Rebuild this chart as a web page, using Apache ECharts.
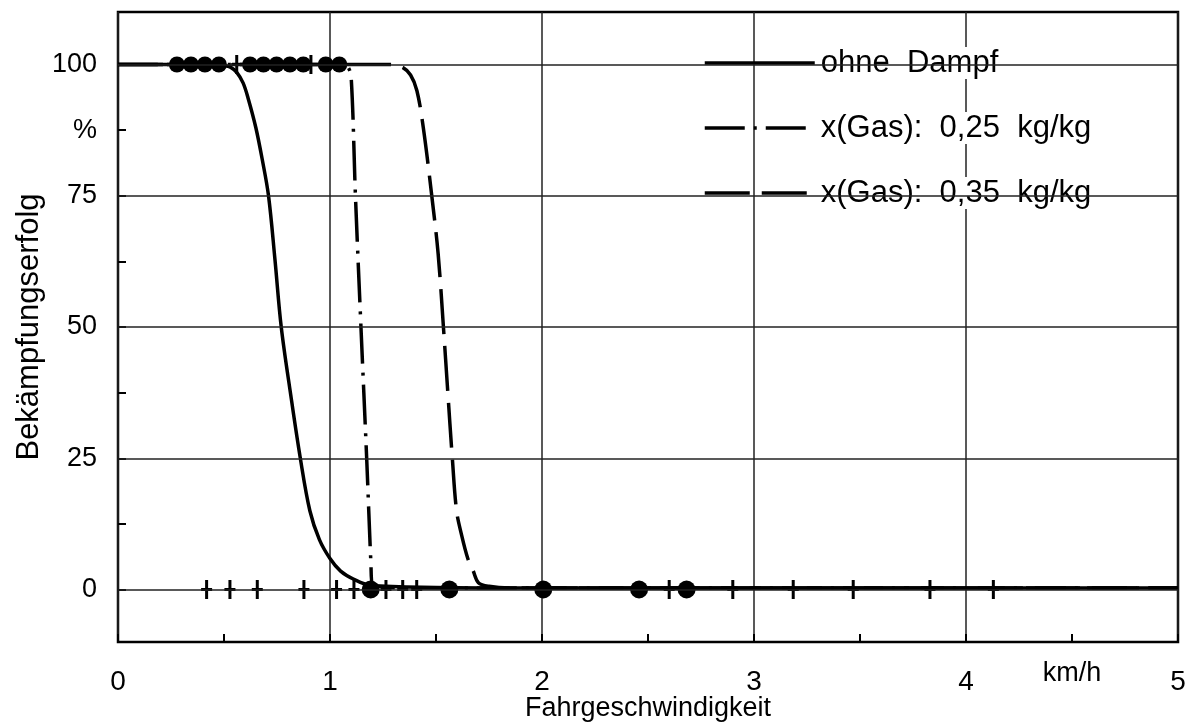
<!DOCTYPE html>
<html>
<head>
<meta charset="utf-8">
<script src="https://cdn.jsdelivr.net/npm/echarts@6/dist/echarts.min.js"></script>
<style>
  html, body { margin: 0; background: #fff; }
  #chart { width: 1190px; height: 726px; }
</style>
</head>
<body>
<div id="chart"></div>
<script>
// curves (x in km/h, y in %)
const solidX = [0, 0.45, 0.5, 0.53, 0.56, 0.59, 0.615, 0.65, 0.68, 0.71, 0.74, 0.77, 0.815, 0.86, 0.905, 0.95, 1.0, 1.05, 1.11, 1.19, 1.5, 2, 5]
const solidY = [100, 100, 99.8, 99.5, 98.5, 96.5, 93.4, 88, 82, 75, 63, 50, 37, 25, 15, 9.5, 5.9, 3.5, 2, 0.8, 0.4, 0.3, 0.3]

const gas25X = [0, 1.06, 1.085, 1.10, 1.12, 1.146, 1.173, 1.193, 1.2, 1.4, 5]
const gas25Y = [100, 100, 99.5, 97.5, 75, 50, 25, 5, 1, 0.3, 0.3]

const gas35X = [0, 1.28, 1.34, 1.38, 1.41, 1.44, 1.48, 1.51, 1.535, 1.555, 1.577, 1.597, 1.62, 1.65, 1.675, 1.70, 1.75, 1.85, 5]
const gas35Y = [100, 100, 99.5, 98, 95, 88, 75, 64, 50, 38, 25, 15, 10.5, 5.9, 3.6, 1.3, 0.6, 0.3, 0.3]

// single measurements: circles and crosses on the 100 % and 0 % lines
const topCircleX = [0.278, 0.344, 0.41, 0.476, 0.623, 0.686, 0.748, 0.811, 0.874, 0.98, 1.044]
const topPlusX = [0.56, 0.91]
const botCircleX = [1.192, 1.563, 2.006, 2.458, 2.682]
const botPlusX = [0.418, 0.528, 0.657, 0.877, 1.031, 1.113, 1.264, 1.343, 1.409, 2.60, 2.90, 3.185, 3.468, 3.83, 4.129]

// axes
const xLabelValues = [0, 1, 2, 3, 4, 4.5, 5]
const yLabelValues = [0, 25, 50, 75, 87.5, 100]
const yTickValues = [0, 12.5, 25, 37.5, 50, 62.5, 75, 87.5, 100]
const yGrid = [0, 25, 50, 75, 100]

const names = ['ohne  Dampf', 'x(Gas):  0,25  kg/kg', 'x(Gas):  0,35  kg/kg']
const dashes = ['solid', [40, 9, 3, 9], [45, 12]]

const zip = (xs, ys) => xs.map((x, i) => [x, ys[i]])
const at = (xs, y) => xs.map(x => [x, y])

const font = 'Liberation Sans, Arial, sans-serif'
const plus = 'path://M4,0H7V18H4Z M0,7.5H11V10.5H0Z'

const chart = echarts.init(document.getElementById('chart'))

const curve = (i, xs, ys) => ({
    name: names[i],
    type: 'line',
    data: zip(xs, ys),
    symbol: 'none',
    smooth: 0.35,
    z: 3,
    color: '#000',
    lineStyle: { color: '#000', width: 3.5, type: dashes[i] }
})

const option = {
    animation: false,
    backgroundColor: '#fff',
    grid: {
        left: 118, right: 12, top: 12, bottom: 84,
        outerBoundsMode: 'none',
        show: true,
        borderColor: '#000',
        borderWidth: 2.5
    },
    legend: {
        data: names.map((n, i) => ({
            name: n,
            itemStyle: { color: 'rgba(0,0,0,0)', borderColor: 'rgba(0,0,0,0)', borderWidth: 0 },
            lineStyle: { color: '#000', width: 3.5, type: dashes[i] }
        })),
        orient: 'vertical',
        left: 698,
        top: 42,
        itemWidth: 110,
        itemHeight: 32,
        itemGap: 33,
        selectedMode: false,
        textStyle: {
            fontFamily: font,
            fontSize: 31,
            color: '#000',
            lineHeight: 32,
            backgroundColor: '#fff',
            padding: [0, 3, 0, 1]
        }
    },
    xAxis: {
        type: 'value',
        min: 0,
        max: 5,
        interval: 1,
        name: 'Fahrgeschwindigkeit',
        nameLocation: 'middle',
        nameGap: 53,
        nameMoveOverlap: false,
        nameTextStyle: { fontFamily: font, fontSize: 27, color: '#000' },
        axisLine: { show: false, onZero: false },
        axisTick: { show: true, inside: true, length: 8, lineStyle: { color: '#000', width: 2 } },
        minorTick: { show: true, splitNumber: 2, length: 8, lineStyle: { color: '#000', width: 2 } },
        axisLabel: {
            customValues: xLabelValues,
            margin: 18,
            formatter: v => v === 4.5 ? '{u|km/h}' : '{n|' + v + '}',
            rich: {
                n: { fontFamily: font, fontSize: 28, color: '#000', padding: [8, 0, 0, 0] },
                u: { fontFamily: font, fontSize: 27, color: '#000' }
            }
        },
        splitLine: { show: true, lineStyle: { color: '#222', width: 1.5 } }
    },
    yAxis: {
        type: 'value',
        min: -10,
        max: 110,
        name: 'Bekämpfungserfolg',
        nameLocation: 'middle',
        nameGap: 73,
        nameMoveOverlap: false,
        nameTextStyle: { fontFamily: font, fontSize: 31, color: '#000' },
        axisLine: { show: false, onZero: false },
        axisTick: { show: true, inside: true, length: 8, customValues: yTickValues, lineStyle: { color: '#000', width: 2 } },
        axisLabel: {
            customValues: yLabelValues,
            margin: 21,
            fontFamily: font,
            fontSize: 27,
            color: '#000',
            formatter: v => v === 87.5 ? '%' : String(v)
        },
        splitLine: { show: false }
    },
    series: [
        {
            name: 'grid',
            type: 'line',
            data: [],
            z: 1,
            silent: true,
            markLine: {
                silent: true,
                symbol: ['none', 'none'],
                label: { show: false },
                lineStyle: { color: '#222', width: 1.5, type: 'solid' },
                emphasis: { disabled: true },
                data: yGrid.map(v => ({ yAxis: v }))
            }
        },
        curve(0, solidX, solidY),
        curve(1, gas25X, gas25Y),
        curve(2, gas35X, gas35Y),
        {
            type: 'scatter',
            data: at(topCircleX, 100).concat(at(botCircleX, 0)),
            symbol: 'circle',
            symbolSize: (v) => v[1] > 50 ? 16 : 18,
            z: 4,
            itemStyle: { color: '#000', opacity: 1 }
        },
        {
            type: 'scatter',
            data: at(topPlusX, 100).concat(at(botPlusX, 0)),
            symbol: plus,
            symbolSize: [11, 19],
            z: 4,
            itemStyle: { color: '#000', opacity: 1 }
        }
    ]
}

chart.setOption(option)
</script>
</body>
</html>
